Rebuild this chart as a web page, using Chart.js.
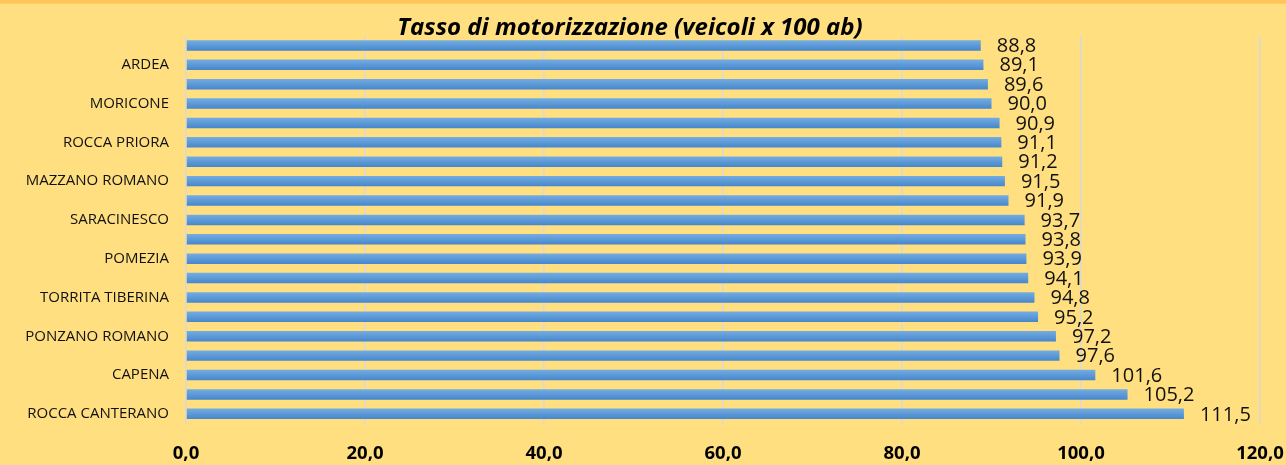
<!DOCTYPE html>
<html>
<head>
<meta charset="utf-8">
<script src="https://cdn.jsdelivr.net/npm/chart.js@4.4.1/dist/chart.umd.min.js"></script>
<style>
  html,body{margin:0;padding:0;background:#FFDF80;}
  #box{width:1286px;height:465px;}
</style>
</head>
<body>
<div id="box"><canvas id="grafico"></canvas></div>
<script>
// comuni (solo quelli con etichetta leggibile)
var comuni=["","ARDEA","","MORICONE","","ROCCA PRIORA","","MAZZANO ROMANO","","SARACINESCO",
  "","POMEZIA","","TORRITA TIBERINA","","PONZANO ROMANO","","CAPENA","","ROCCA CANTERANO"];
var tasso=[88.8,89.1,89.6,90.0,90.9,91.1,91.2,91.5,91.9,93.7,
  93.8,93.9,94.1,94.8,95.2,97.2,97.6,101.6,105.2,111.5];
var titolo="Tasso di motorizzazione (veicoli x 100 ab)";

function virgola(v){ return v.toFixed(1).replace(".",","); }

// sfondo e striscia arancio in alto
var sfondo={
  id:"sfondo",
  beforeDraw:function(chart){
    var c=chart.ctx;
    c.save();
    c.fillStyle="#FFDF80";
    c.fillRect(0,0,chart.width,chart.height);
    c.fillStyle="#FFC55A";
    c.fillRect(0,0,chart.width,3.7);
    c.restore();
  }
};

// etichette dei valori a destra delle barre
var etichette={
  id:"etichette",
  afterDatasetsDraw:function(chart){
    var c=chart.ctx;
    var meta=chart.getDatasetMeta(0);
    c.save();
    c.font="20px 'Open Sans'";
    c.fillStyle="#111";
    c.textBaseline="middle";
    c.textAlign="left";
    meta.data.forEach(function(bar,i){
      c.fillText(virgola(tasso[i]),bar.x+16,bar.y+1);
    });
    c.restore();
  }
};

function sfumatura(context){
  var chart=context.chart;
  var y=chart.scales.y;
  if(!y || context.dataIndex===undefined) return "#5B9BD5";
  var yc=y.getPixelForValue(context.dataIndex);
  if(!isFinite(yc)) return "#5B9BD5";
  var g=chart.ctx.createLinearGradient(0,yc-5.3,0,yc+5.3);
  g.addColorStop(0,"#74ADE2");
  g.addColorStop(1,"#4686CC");
  return g;
}

var ctx=document.getElementById("grafico").getContext("2d");
var g1=new Chart(ctx,{
  type:"bar",
  data:{
    labels:comuni,
    datasets:[{
      label:titolo,
      data:tasso,
      backgroundColor:sfumatura,
      categoryPercentage:1,
      barPercentage:0.54
    }]
  },
  options:{
    indexAxis:"y",
    responsive:true,
    maintainAspectRatio:false,
    animation:false,
    layout:{padding:{left:0,right:26,top:0,bottom:0}},
    plugins:{
      legend:{display:false},
      tooltip:{enabled:false},
      title:{
        display:true,
        text:titolo,
        color:"#000",
        font:{family:"'Open Sans'",size:24,weight:"bold",style:"italic",lineHeight:0.75},
        padding:{top:19.2,bottom:-1.5}
      }
    },
    scales:{
      x:{
        min:0,max:120,
        ticks:{stepSize:20,color:"#000",padding:19,
          font:{family:"'Open Sans'",size:18.5,weight:"bold"},
          callback:function(v){ return virgola(v); }},
        grid:{color:"#D9D9D9",lineWidth:1.5,drawTicks:false},
        border:{display:false},
        afterFit:function(s){ s.height=41.5; s.paddingLeft=0; s.paddingRight=0; }
      },
      y:{
        ticks:{autoSkip:false,color:"#111",padding:17,font:{family:"'Open Sans'",size:15}},
        grid:{display:false,drawTicks:false},
        border:{display:false},
        afterFit:function(s){ s.width=186; s.paddingTop=0; s.paddingBottom=0; }
      }
    }
  },
  plugins:[sfondo,etichette]
});
</script>
</body>
</html>
